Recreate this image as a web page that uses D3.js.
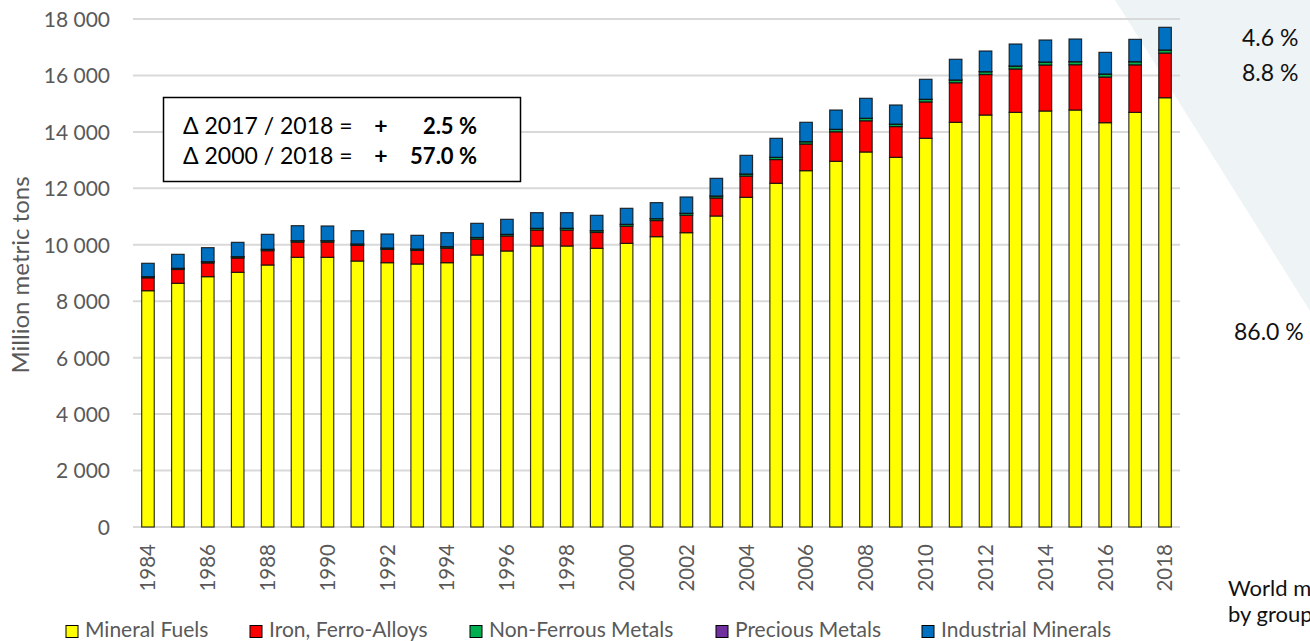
<!DOCTYPE html>
<html>
<head>
<meta charset="utf-8">
<script src="https://cdn.jsdelivr.net/npm/d3@7"></script>
<style>
  body { margin: 0; background: #fff; }
  svg { display: block; font-family: Lato, "Open Sans", sans-serif; }
</style>
</head>
<body>
<svg id="chart" width="1310" height="641"></svg>
<script>
// world mining production by groups of minerals, 1984-2018 (million metric tons)

const years = d3.range(1984, 2019).map(String);
const seriesNames = ["Mineral Fuels", "Iron, Ferro-Alloys", "Non-Ferrous Metals", "Precious Metals", "Industrial Minerals"];
const seriesColors = ["#ffff00", "#ff0000", "#00b050", "#7030a0", "#0070c0"];

const mineralFuels = [8373, 8635, 8870, 9025, 9284, 9556, 9556, 9425, 9366, 9319, 9366, 9638, 9780, 9957, 9957, 9874, 10051, 10288, 10429, 11020,
  11681, 12178, 12626, 12957, 13288, 13099, 13773, 14340, 14598, 14692, 14740, 14775, 14326, 14692, 15211];
const ironFerro = [457, 490, 487, 507, 508, 540, 540, 553, 470, 481, 515, 565, 533, 566, 564, 563, 608, 570, 618, 638,
  752, 842, 944, 1047, 1106, 1090, 1289, 1402, 1435, 1538, 1630, 1605, 1617, 1684, 1582];
const nonFerrous = [40, 42, 44, 46, 48, 50, 50, 50, 50, 50, 52, 55, 57, 60, 62, 63, 66, 67, 68, 71,
  75, 79, 83, 87, 88, 86, 93, 97, 100, 104, 106, 108, 108, 112, 108];
const preciousMetals = [0.015, 0.015, 0.016, 0.017, 0.018, 0.019, 0.02, 0.02, 0.02, 0.02, 0.02, 0.02, 0.021, 0.022, 0.023, 0.023, 0.024, 0.024, 0.024, 0.025,
  0.025, 0.026, 0.026, 0.027, 0.027, 0.028, 0.029, 0.03, 0.031, 0.032, 0.033, 0.033, 0.034, 0.034, 0.034];
const industrialMinerals = [474, 495, 497, 508, 530, 531, 520, 472, 496, 485, 496, 502, 532, 555, 555, 544, 567, 568, 578, 625,
  661, 673, 687, 684, 708, 678, 709, 734, 733, 780, 780, 803, 767, 791, 804];

const yTicks = d3.range(0, 18001, 2000);
const xTickYears = years.filter((y, i) => i % 2 === 0);
const pieLabels = ["4.6 %", "8.8 %", "86.0 %"];

const allSeries = [mineralFuels, ironFerro, nonFerrous, preciousMetals, industrialMinerals];
const table = years.map((yr, i) => {
  const row = { year: yr };
  seriesNames.forEach((n, k) => row[n] = allSeries[k][i]);
  return row;
});

const svg = d3.select("#chart");
const plotLeft = 133, plotRight = 1180, plotTop = 19, plotBottom = 527;
const grey = "#595959";

// pale wedge of the pie chart on the right
svg.append("path")
  .attr("d", "M1115,0 L1310,0 L1310,311 Z")
  .attr("fill", "#eef3f6");

const x = d3.scaleBand().domain(years).range([plotLeft, plotRight]).paddingInner(0.58).paddingOuter(0.29);
const y = d3.scaleLinear().domain([0, 18000]).range([plotBottom, plotTop]);

const fmt = d3.formatLocale({ decimal: ".", thousands: " ", grouping: [3] }).format(",");

// gridlines
svg.append("g").selectAll("line").data(yTicks).join("line")
  .attr("x1", plotLeft).attr("x2", plotRight)
  .attr("y1", d => y(d)).attr("y2", d => y(d))
  .attr("stroke", "#d9d9d9").attr("stroke-width", 2);

// y axis labels
const yAxis = svg.append("g")
  .attr("transform", `translate(110,0)`)
  .call(d3.axisLeft(y).tickValues(yTicks).tickFormat(fmt).tickSize(0).tickPadding(0));
yAxis.select(".domain").remove();
yAxis.selectAll("text").attr("fill", grey).style("font-size", "21px").style("font-family", "Lato").attr("dy", "0.35em");

// x axis labels
const xAxis = svg.append("g")
  .attr("transform", `translate(0,${plotBottom})`)
  .call(d3.axisBottom(x).tickValues(xTickYears).tickSize(0));
xAxis.select(".domain").remove();
xAxis.selectAll("text")
  .attr("fill", grey).style("font-size", "20.5px").style("font-family", "Lato")
  .attr("text-anchor", "end")
  .attr("transform", "translate(0,17) rotate(-90)")
  .attr("x", 0).attr("y", 0).attr("dy", "0.36em");

// axis title
svg.append("text")
  .attr("transform", `translate(29,${(plotTop + plotBottom) / 2 + 2}) rotate(-90)`)
  .attr("text-anchor", "middle")
  .attr("fill", grey).style("font-size", "24px")
  .text("Million metric tons");

// stacked bars
const stacked = d3.stack().keys(seriesNames)(table);
svg.append("g").selectAll("g").data(stacked).join("g")
  .attr("fill", (d, i) => seriesColors[i])
  .selectAll("rect").data(d => d).join("rect")
  .attr("x", d => x(d.data.year))
  .attr("width", x.bandwidth())
  .attr("y", d => y(d[1]))
  .attr("height", d => y(d[0]) - y(d[1]))
  .attr("stroke", "#111").attr("stroke-width", 1.2).attr("stroke-opacity", 0.85);

// annotation box
const box = svg.append("g");
box.append("rect").attr("x", 163.5).attr("y", 97.5).attr("width", 357).attr("height", 84)
  .attr("fill", "#fff").attr("stroke", "#000").attr("stroke-width", 1.5);
const boxLines = [["\u0394 2017 / 2018 =", "2.5 %", 134], ["\u0394 2000 / 2018 =", "57.0 %", 164]];
boxLines.forEach(l => {
  box.append("text").attr("x", 183).attr("y", l[2]).style("font-size", "23px").attr("fill", "#000").text(l[0]);
  box.append("text").attr("x", 381).attr("y", l[2]).attr("text-anchor", "middle").style("font-size", "23px")
    .style("font-weight", "bold").attr("fill", "#000").text("+");
  box.append("text").attr("x", 477).attr("y", l[2]).attr("text-anchor", "end").style("font-size", "22px")
    .style("font-weight", "bold").attr("fill", "#000").text(l[1]);
});

// legend
const legendX = [66, 250, 470, 716, 922];
const legend = svg.append("g").selectAll("g").data(seriesNames).join("g")
  .attr("transform", (d, i) => `translate(${legendX[i]},625.5)`);
legend.append("rect").attr("width", 12).attr("height", 12)
  .attr("fill", (d, i) => seriesColors[i]).attr("stroke", "#000").attr("stroke-width", 1);
legend.append("text").attr("x", 19).attr("y", 11.5)
  .attr("fill", grey).style("font-size", "21px").text(d => d);

// pie chart labels on the right (cut off by the page edge)
svg.append("text").attr("x", 1242).attr("y", 46).style("font-size", "23px").attr("fill", "#111").text(pieLabels[0]);
svg.append("text").attr("x", 1242).attr("y", 81).style("font-size", "23px").attr("fill", "#111").text(pieLabels[1]);
svg.append("text").attr("x", 1234).attr("y", 340).style("font-size", "23px").attr("fill", "#111").text(pieLabels[2]);
svg.append("text").attr("x", 1228).attr("y", 596).style("font-size", "22px").attr("fill", "#111").text("World mining production");
svg.append("text").attr("x", 1228).attr("y", 622).style("font-size", "22px").attr("fill", "#111").text("by groups of minerals");
</script>
</body>
</html>
